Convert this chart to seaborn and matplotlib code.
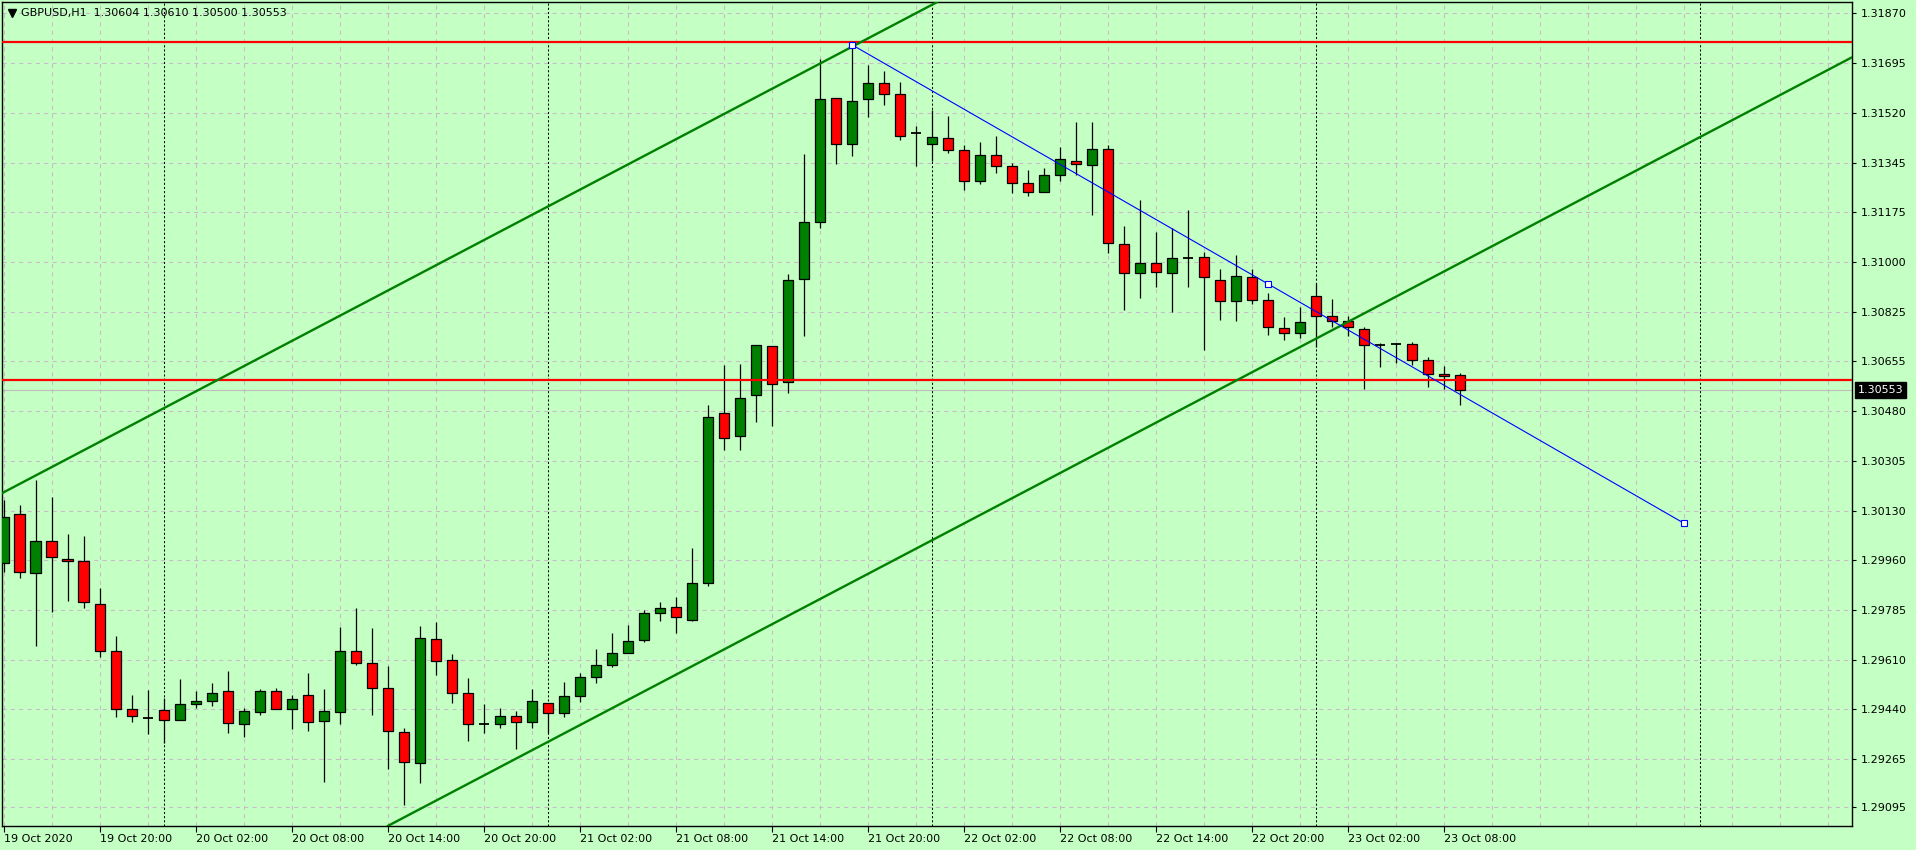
import numpy as np
import pandas as pd
import seaborn as sns
import matplotlib.pyplot as plt
import matplotlib.transforms as mtransforms

# GBPUSD H1 candles, 19 Oct 14:00 .. 23 Oct 09:00 (one bar per hour)
opens = [1.29947, 1.30118, 1.29912, 1.30024, 1.29961, 1.29954, 1.29804, 1.29640, 1.29437, 1.29406,
         1.29434, 1.29399, 1.29455, 1.29465, 1.29500, 1.29385, 1.29427, 1.29500, 1.29437, 1.29486,
         1.29396, 1.29427, 1.29640, 1.29598, 1.29511, 1.29357, 1.29249, 1.29682, 1.29609, 1.29493,
         1.29385, 1.29385, 1.29413, 1.29392, 1.29458, 1.29423, 1.29483, 1.29549, 1.29591, 1.29633,
         1.29678, 1.29773, 1.29794, 1.29748, 1.29877, 1.30471, 1.30393, 1.30536, 1.30705, 1.30581,
         1.30939, 1.31138, 1.31571, 1.31410, 1.31568, 1.31623, 1.31585, 1.31449, 1.31410, 1.31431,
         1.31390, 1.31281, 1.31372, 1.31334, 1.31274, 1.31243, 1.31302, 1.31351, 1.31337, 1.31393,
         1.31061, 1.30960, 1.30995, 1.30960, 1.31014, 1.31016, 1.30935, 1.30862, 1.30946, 1.30866,
         1.30768, 1.30750, 1.30880, 1.30810, 1.30792, 1.30764, 1.30711, 1.30714, 1.30712, 1.30656,
         1.30607, 1.30604]
highs = [1.30168, 1.30151, 1.30238, 1.30179, 1.30050, 1.30043, 1.29861, 1.29693, 1.29487, 1.29505,
         1.29477, 1.29543, 1.29501, 1.29529, 1.29571, 1.29441, 1.29507, 1.29511, 1.29486, 1.29564,
         1.29508, 1.29725, 1.29791, 1.29721, 1.29589, 1.29371, 1.29727, 1.29742, 1.29631, 1.29546,
         1.29456, 1.29441, 1.29432, 1.29507, 1.29458, 1.29532, 1.29563, 1.29647, 1.29703, 1.29731,
         1.29783, 1.29811, 1.29829, 1.30000, 1.30500, 1.30640, 1.30643, 1.30709, 1.30705, 1.30958,
         1.31377, 1.31708, 1.31571, 1.31751, 1.31688, 1.31666, 1.31628, 1.31473, 1.31529, 1.31509,
         1.31407, 1.31417, 1.31438, 1.31344, 1.31320, 1.31327, 1.31399, 1.31487, 1.31487, 1.31407,
         1.31124, 1.31216, 1.31103, 1.31117, 1.31181, 1.31033, 1.30974, 1.31024, 1.30974, 1.30890,
         1.30806, 1.30841, 1.30925, 1.30869, 1.30810, 1.30771, 1.30718, 1.30718, 1.30719, 1.30668,
         1.30635, 1.30610]
lows = [1.29918, 1.29897, 1.29660, 1.29778, 1.29817, 1.29792, 1.29621, 1.29412, 1.29394, 1.29352,
        1.29321, 1.29399, 1.29443, 1.29450, 1.29356, 1.29342, 1.29419, 1.29437, 1.29370, 1.29363,
        1.29185, 1.29387, 1.29593, 1.29419, 1.29230, 1.29102, 1.29181, 1.29557, 1.29460, 1.29328,
        1.29356, 1.29373, 1.29298, 1.29373, 1.29356, 1.29412, 1.29464, 1.29530, 1.29584, 1.29633,
        1.29671, 1.29745, 1.29703, 1.29745, 1.29869, 1.30344, 1.30344, 1.30442, 1.30428, 1.30543,
        1.30742, 1.31119, 1.31341, 1.31371, 1.31507, 1.31549, 1.31424, 1.31334, 1.31351, 1.31379,
        1.31252, 1.31273, 1.31311, 1.31241, 1.31231, 1.31243, 1.31281, 1.31302, 1.31162, 1.31030,
        1.30833, 1.30875, 1.30913, 1.30826, 1.30913, 1.30693, 1.30798, 1.30794, 1.30854, 1.30743,
        1.30726, 1.30735, 1.30704, 1.30774, 1.30742, 1.30555, 1.30634, 1.30648, 1.30639, 1.30564,
        1.30557, 1.30500]
closes = [1.30110, 1.29916, 1.30024, 1.29968, 1.29954, 1.29811, 1.29640, 1.29437, 1.29413, 1.29406,
          1.29399, 1.29455, 1.29465, 1.29493, 1.29389, 1.29430, 1.29500, 1.29437, 1.29472, 1.29392,
          1.29430, 1.29640, 1.29598, 1.29511, 1.29361, 1.29252, 1.29685, 1.29605, 1.29493, 1.29385,
          1.29385, 1.29413, 1.29392, 1.29465, 1.29423, 1.29483, 1.29549, 1.29591, 1.29633, 1.29675,
          1.29773, 1.29790, 1.29759, 1.29877, 1.30457, 1.30386, 1.30523, 1.30709, 1.30574, 1.30935,
          1.31138, 1.31568, 1.31410, 1.31561, 1.31623, 1.31585, 1.31438, 1.31449, 1.31436, 1.31390,
          1.31281, 1.31372, 1.31334, 1.31274, 1.31243, 1.31302, 1.31358, 1.31341, 1.31393, 1.31065,
          1.30960, 1.30995, 1.30963, 1.31012, 1.31014, 1.30946, 1.30862, 1.30950, 1.30866, 1.30771,
          1.30750, 1.30789, 1.30810, 1.30792, 1.30771, 1.30709, 1.30711, 1.30714, 1.30656, 1.30607,
          1.30600, 1.30553]

time_labels = ['19 Oct 2020', '19 Oct 20:00', '20 Oct 02:00', '20 Oct 08:00', '20 Oct 14:00',
               '20 Oct 20:00', '21 Oct 02:00', '21 Oct 08:00', '21 Oct 14:00', '21 Oct 20:00',
               '22 Oct 02:00', '22 Oct 08:00', '22 Oct 14:00', '22 Oct 20:00', '23 Oct 02:00',
               '23 Oct 08:00']
price_ticks = [1.31870, 1.31695, 1.31520, 1.31345, 1.31175, 1.31000, 1.30825, 1.30655, 1.30480,
               1.30305, 1.30130, 1.29960, 1.29785, 1.29610, 1.29440, 1.29265, 1.29095]

header = 'GBPUSD,H1  1.30604 1.30610 1.30500 1.30553'
bid_price = 1.30553
resistance_level = 1.31768
support_level = 1.30588

# drawn objects (bar index, price)
day_breaks = [10, 34, 58, 82, 106]
channel_upper = [(0, 1.30195), (58, 1.31897)]
channel_lower = [(24, 1.29030), (84, 1.30790)]
trend_bars = [53, 79, 105]
trend_prices = [1.31758, 1.30923, 1.30087]

df = pd.DataFrame({'open': opens, 'high': highs, 'low': lows, 'close': closes})
df['bar'] = np.arange(len(df))

bg = '#c4ffc4'
grid_color = '#c8bcc8'
sns.set_style('ticks', {'axes.facecolor': bg, 'figure.facecolor': bg,
                        'axes.edgecolor': 'black', 'axes.linewidth': 1.0})
plt.rcParams['font.family'] = ['DejaVu Sans']

fig = plt.figure(figsize=(19.16, 8.5), dpi=100)
ax = fig.add_axes([2 / 1916, 1 - 826 / 850, 1850 / 1916, 824 / 850])

# dashed grid
for b in range(0, 116, 3):
    ax.axvline(b, color=grid_color, lw=0.75, dashes=(4, 4), zorder=0)
for p in price_ticks:
    ax.axhline(p, color=grid_color, lw=0.75, dashes=(4, 4), zorder=0)

# day separators
for b in day_breaks:
    ax.axvline(b, color='black', lw=0.75, dashes=(2, 2), zorder=1)

ax.axhline(bid_price, color='#bdbdbd', lw=0.8, zorder=1)

# candles
width = 0.64
ax.vlines(df['bar'], df['low'], df['high'], color='black', lw=0.9, zorder=3)
bull = df[df['close'] > df['open']]
bear = df[df['close'] < df['open']]
doji = df[df['close'] == df['open']]
ax.bar(bull['bar'], bull['close'] - bull['open'], bottom=bull['open'], width=width,
       color='#008000', edgecolor='black', linewidth=0.9, zorder=4)
ax.bar(bear['bar'], bear['open'] - bear['close'], bottom=bear['close'], width=width,
       color='#ff0000', edgecolor='black', linewidth=0.9, zorder=4)
ax.hlines(doji['open'], doji['bar'] - width / 2, doji['bar'] + width / 2,
          color='black', lw=1.3, zorder=4)

# objects
ax.axhline(resistance_level, color='#ff0000', lw=1.6, zorder=5)
ax.axhline(support_level, color='#ff0000', lw=1.6, zorder=5)
ax.axline(channel_upper[0], channel_upper[1], color='#008000', lw=1.7, zorder=5)
ax.axline(channel_lower[0], channel_lower[1], color='#008000', lw=1.7, zorder=5)
sns.lineplot(x=trend_bars, y=trend_prices, ax=ax, color='#0000ff', lw=0.8,
             marker='s', markersize=4.5, markerfacecolor='white',
             markeredgecolor='#0000ff', markeredgewidth=0.8, legend=False, zorder=6)

ax.set_xlim(-0.1, 115.5)
ax.set_ylim(1.29030, 1.31907)

ax.yaxis.tick_right()
ax.set_yticks(price_ticks)
ax.set_yticklabels(['%.5f' % p for p in price_ticks])
ax.set_xticks(np.arange(0, 91, 6))
ax.set_xticklabels(time_labels, ha='left')
ax.tick_params(axis='y', length=3, width=0.8, pad=3, labelsize=8, colors='black')
ax.tick_params(axis='x', length=4, width=0.8, pad=1.5, labelsize=8, colors='black')
ax.set_xlabel('')
ax.set_ylabel('')
for s in ax.spines.values():
    s.set_visible(True)
    s.set_linewidth(1.0)

# header and current price label
ax.plot([10 / 1850], [1 - 11 / 824], marker='v', ms=5.5, color='black',
        transform=ax.transAxes, clip_on=False, zorder=10)
ax.text(19 / 1850, 1 - 11 / 824, header, transform=ax.transAxes, fontsize=8,
        va='center', ha='left', color='black', zorder=10)
trans = mtransforms.blended_transform_factory(ax.transAxes, ax.transData)
ax.text(1.0032, bid_price, '%.5f' % bid_price, transform=trans, fontsize=8, color='white',
        va='center', ha='left', clip_on=False, zorder=10,
        bbox=dict(boxstyle='square,pad=0.25', fc='black', ec='black'))

fig.savefig('out.png', dpi=100, facecolor=bg)
